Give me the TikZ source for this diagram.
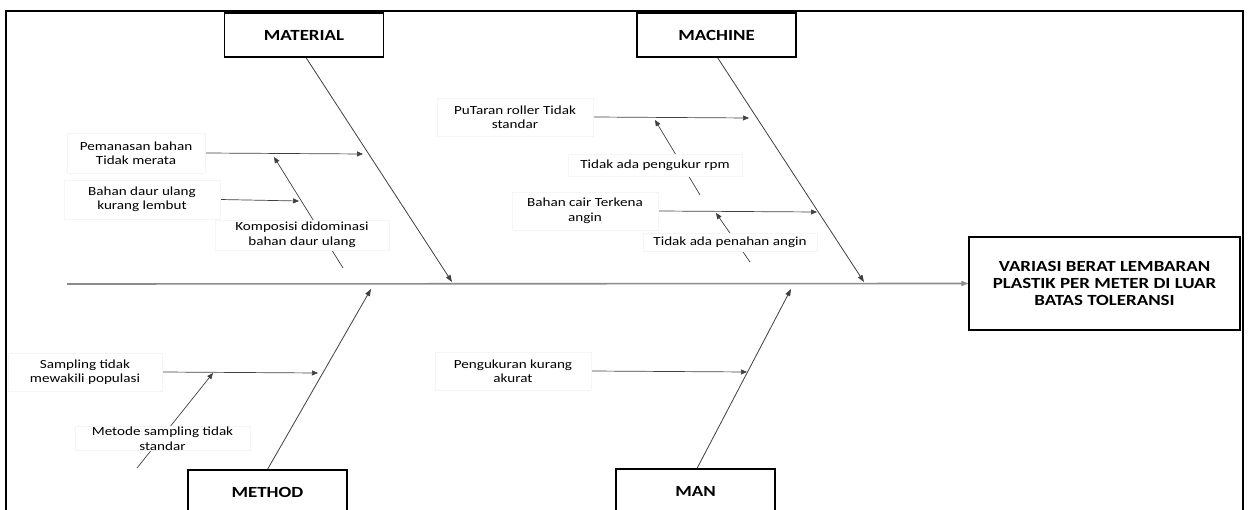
\documentclass[tikz,border=0pt]{standalone}
\usepackage{fontspec}
\setmainfont[FakeStretch=1.22]{Carlito}
\usetikzlibrary{arrows.meta,backgrounds}
\begin{document}
\begin{tikzpicture}[x=1pt,y=-1pt,
  cause/.style={draw=black!4, fill=white, inner sep=0pt, align=center,
    font=\fontsize{12.4}{14.5}\selectfont},
  cat/.style={draw=black, line width=1.2pt, fill=white, inner sep=0pt,
    font=\fontsize{15.5}{17}\selectfont\bfseries, minimum width=159pt, minimum height=44pt},
  bone/.style={draw=black!75, line width=0.8pt, -{Triangle[length=7pt,width=5pt]}},
  sub/.style={draw=black!75, line width=0.7pt, -{Triangle[length=6pt,width=5pt]}},
  spine/.style={draw=black!45, line width=1.6pt, -{Triangle[length=7pt,width=5pt,fill=black]}}]
\useasboundingbox (0,0) rectangle (1249,510);
\clip (0,0) rectangle (1249,510);
\draw[line width=2pt] (6,530) -- (6,11) -- (1243,11) -- (1243,530);

% category boxes
\node[cat] (mat) at (304,35) {MATERIAL};
\node[cat] (mac) at (716.5,35) {MACHINE};
\node[cat] (met) at (267.5,492) {METHOD};
\node[cat] (man) at (695.5,491) {MAN};
\node[draw=black, line width=1.2pt, fill=white, inner sep=0pt, align=center,
  minimum width=271pt, minimum height=93pt,
  font=\fontsize{15.5}{17}\selectfont\bfseries] (eff) at (1104.5,283.5)
  {VARIASI BERAT LEMBARAN\\PLASTIK PER METER DI LUAR\\BATAS TOLERANSI};

% cause texts
\node[cause, minimum width=138pt, minimum height=40pt] (p1) at (136,153) {Pemanasan bahan\\Tidak merata};
\node[cause, minimum width=156pt, minimum height=39pt] (p2) at (142,199.5) {Bahan daur ulang\\kurang lembut};
\node[cause, minimum width=174pt, minimum height=30pt] (p3) at (302,235) {Komposisi didominasi\\bahan daur ulang};
\node[cause, minimum width=156pt, minimum height=38pt] (q1) at (515,117) {PuTaran roller Tidak\\standar};
\node[cause, minimum width=174pt, minimum height=22pt] (q2) at (655,165) {Tidak ada pengukur rpm};
\node[cause, minimum width=146pt, minimum height=38pt] (q3) at (585,211) {Bahan cair Terkena\\angin};
\node[cause, minimum width=174pt, minimum height=18pt] (q4) at (730,242.5) {Tidak ada penahan angin};
\node[cause, minimum width=154pt, minimum height=38pt] (r1) at (85,372) {Sampling tidak\\mewakili populasi};
\node[cause, minimum width=175pt, minimum height=24pt] (r2) at (162.5,438.5) {Metode sampling tidak\\standar};
\node[cause, minimum width=156pt, minimum height=38pt] (s1) at (513,371) {Pengukuran kurang\\akurat};

% coordinates
\coordinate (sS) at (67,284);
\coordinate (tMat) at (452,282);
\coordinate (tMac) at (864,282);
\coordinate (tMet) at (371,289);
\coordinate (tMan) at (791,289);
\coordinate (m1) at (363,154);
\coordinate (m2) at (299,201);
\coordinate (k0) at (343,268);
\coordinate (k1) at (274,157);
\coordinate (n1) at (749,118);
\coordinate (n2a) at (700,195);
\coordinate (n2b) at (655,120);
\coordinate (n3) at (817,212);
\coordinate (n4a) at (750,262);
\coordinate (n4b) at (716,213);
\coordinate (o1) at (318,373);
\coordinate (o2a) at (137,468);
\coordinate (o2b) at (213,373);
\coordinate (u1) at (747,372);

\begin{scope}[on background layer]
\fill[white] (0,0) rectangle (1249,510);
\draw[spine] (sS) -- (eff.west);
\draw[bone] ([xshift=2pt]mat.south) -- (tMat);
\draw[bone] ([xshift=1pt]mac.south) -- (tMac);
\draw[bone] (met.north) -- (tMet);
\draw[bone] ([xshift=1.5pt]man.north) -- (tMan);
\draw[sub] (p1.east) -- (m1);
\draw[sub] (p2.east) -- (m2);
\draw[sub] (k0) -- (k1);
\draw[sub] (q1.east) -- (n1);
\draw[sub] (n2a) -- (n2b);
\draw[sub] (q3.east) -- (n3);
\draw[sub] (n4a) -- (n4b);
\draw[sub] (r1.east) -- (o1);
\draw[sub] (o2a) -- (o2b);
\draw[sub] (s1.east) -- (u1);
\end{scope}
\end{tikzpicture}
\end{document}
